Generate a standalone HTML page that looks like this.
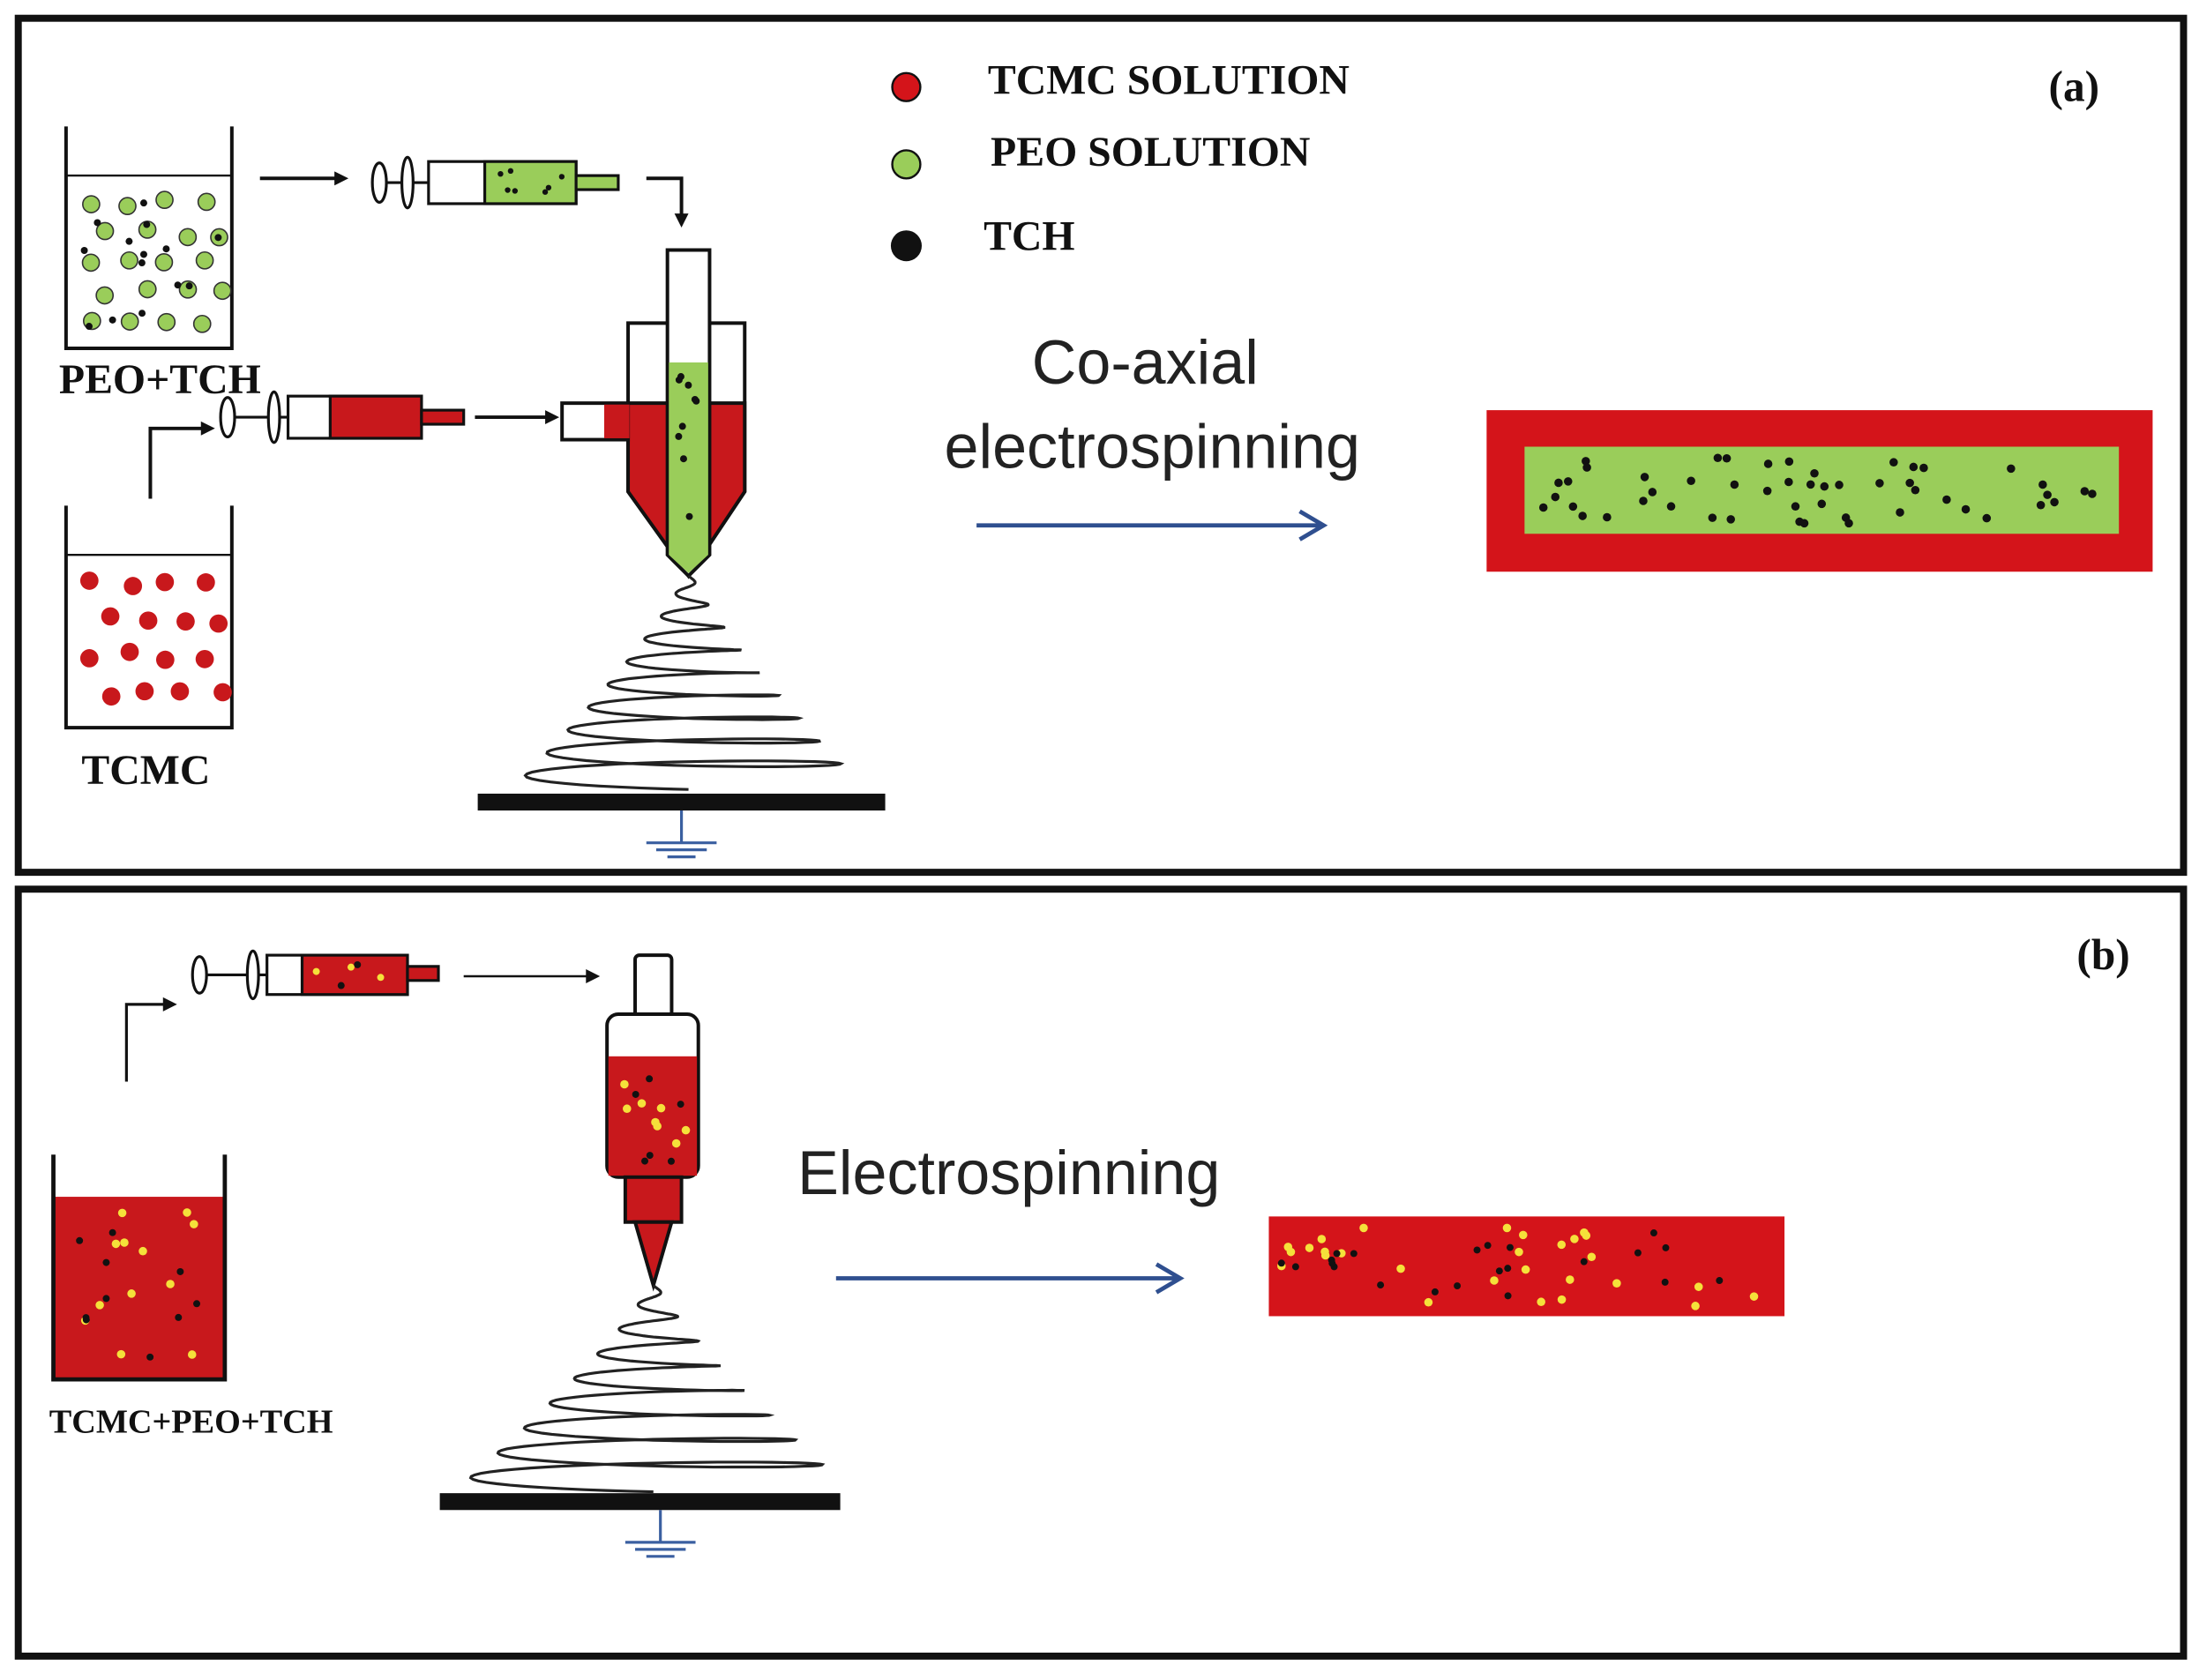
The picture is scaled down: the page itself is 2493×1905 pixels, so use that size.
<!DOCTYPE html>
<html><head><meta charset="utf-8"><style>
html,body{margin:0;padding:0;background:#fff}
svg{display:block}
.s{font-family:"Liberation Serif",serif;font-weight:bold}
.ss{font-family:"Liberation Sans",sans-serif}
</style></head><body>
<svg id="v" width="2493" height="1905" viewBox="0 0 1565 1196" preserveAspectRatio="none" xmlns="http://www.w3.org/2000/svg">
<rect x="0" y="0" width="1565" height="1196" fill="#fff"/>
<rect x="13" y="13" width="1541" height="608" fill="none" stroke="#111" stroke-width="5"/>
<rect x="13" y="633" width="1541" height="546" fill="none" stroke="#111" stroke-width="5"/>
<g stroke="#111" stroke-width="2.5" fill="none">
<path d="M47 90 V248 H165 V90"/><path d="M47 125 H165" stroke-width="1.5"/>
<path d="M47 360 V518 H165 V360"/><path d="M47 395 H165" stroke-width="1.5"/>
<path d="M185 127 H240"/><path d="M460 127 H485 V155"/><path d="M338 297 H390"/><path d="M107 355 V305 H145"/>
</g>
<g fill="#111"><path d="M248 127 l-10 -5 v10z"/><path d="M485 162 l-5 -10 h10z"/><path d="M398 297 l-10 -5 v10z"/><path d="M153 305 l-10 -5 v10z"/></g>
<g stroke="#111" stroke-width="2" fill="#fff">
<rect x="305" y="115" width="105" height="30"/><rect x="345" y="115" width="65" height="30" fill="#9acd5a"/>
<rect x="410" y="125" width="30" height="10" fill="#9acd5a"/>
<path d="M275 130 H305"/><ellipse cx="270" cy="130" rx="5" ry="14"/><ellipse cx="290" cy="130" rx="4" ry="18"/>
</g>
<g stroke="#111" stroke-width="2" fill="#fff">
<rect x="205" y="282" width="95" height="30"/><rect x="235" y="282" width="65" height="30" fill="#c8181c"/>
<rect x="300" y="292" width="30" height="10" fill="#c8181c"/>
<path d="M165 297 H205"/><ellipse cx="162" cy="297" rx="5" ry="14"/><ellipse cx="195" cy="297" rx="4" ry="18"/>
</g>
<g stroke="#111" stroke-width="2.5">
<path d="M447 230 H530 V350 L490 410 L447 350 Z" fill="#fff"/>
<path d="M447 287 H530 V350 L490 410 L447 350 Z" fill="#c8181c"/>
<rect x="400" y="287" width="47" height="26" fill="#fff"/><rect x="430" y="288" width="18" height="24" fill="#c8181c" stroke="none"/>
<path d="M475 178 H505 V395 L490 410 L475 395 Z" fill="#fff"/>
<path d="M476 258 H504 V395 L490 408 L476 395 Z" fill="#9acd5a" stroke="none"/>
</g>
<g stroke="#111" stroke-width="2" fill="#fff">
<rect x="190" y="680" width="100" height="28"/><rect x="215" y="680" width="75" height="28" fill="#c8181c"/>
<rect x="290" y="688" width="22" height="10" fill="#c8181c"/>
<path d="M145 694 H190"/><ellipse cx="142" cy="694" rx="5" ry="13"/><ellipse cx="180" cy="694" rx="4" ry="17"/>
<path d="M90 770 V715 H118" fill="none"/><path d="M330 695 H418" fill="none" stroke-width="1.5"/>
</g>
<g fill="#111"><path d="M126 715 l-10 -5 v10z"/><path d="M427 695 l-10 -5 v10z"/></g>
<rect x="38" y="852" width="122" height="130" fill="#c8181c"/>
<path d="M38 822 V982 H160 V822" fill="none" stroke="#111" stroke-width="3"/>
<g stroke="#111" stroke-width="2.5">
<rect x="452" y="680" width="26" height="45" fill="#fff" rx="3"/>
<rect x="432" y="722" width="65" height="116" fill="#fff" rx="8"/>
<rect x="433" y="752" width="63" height="85" fill="#c8181c" stroke="none"/>
<rect x="445" y="838" width="40" height="32" fill="#c8181c"/>
<path d="M452 870 L465 915 L478 870Z" fill="#c8181c"/>
</g>
<rect x="340" y="565" width="290" height="12" fill="#111"/>
<rect x="313" y="1063" width="285" height="12" fill="#111"/>
<g stroke="#3a5fa0" stroke-width="2">
<path d="M485 577 V600 M460 600 H510 M467 605 H503 M475 610 H495"/>
<path d="M470 1075 V1098 M445 1098 H495 M452 1103 H488 M460 1108 H480"/>
</g>
<path id="sp1" fill="none" stroke="#222" stroke-width="2"/>
<path id="sp2" fill="none" stroke="#222" stroke-width="2"/>
<rect x="1058" y="292" width="474" height="115" fill="#d4141a"/>
<rect x="1085" y="318" width="423" height="62" fill="#9acd5a"/>
<rect x="903" y="866" width="367" height="71" fill="#d4141a"/>
<g stroke="#2f4f8f" stroke-width="3" fill="none">
<path d="M695 374 H940 M925 364 L942 374 L925 384"/>
<path d="M595 910 H838 M823 900 L840 910 L823 920"/>
</g>
<g id="dots"></g>
<circle cx="645" cy="62" r="10" fill="#d4141a" stroke="#111" stroke-width="1.5"/>
<circle cx="645" cy="117" r="10" fill="#9acd5a" stroke="#111" stroke-width="1.5"/>
<circle cx="645" cy="175" r="11" fill="#111"/>
<g class="s" font-size="30" fill="#111">
<text x="703" y="67">TCMC SOLUTION</text><text x="705" y="118">PEO SOLUTION</text><text x="700" y="178">TCH</text>
<text x="1458" y="72" font-size="31">(a)</text><text x="1478" y="690" font-size="31">(b)</text>
<text x="42" y="280" font-size="30">PEO+TCH</text><text x="58" y="558" font-size="30">TCMC</text>
<text x="35" y="1020" font-size="24">TCMC+PEO+TCH</text>
</g>
<g class="ss" font-size="44" fill="#222" text-anchor="middle">
<text x="815" y="273">Co-axial</text><text x="820" y="333">electrospinning</text>
<text x="718" y="850">Electrospinning</text>
</g>
</svg>
<script>
function spiral(cx,y0,y1,w0,w1,n){let d="M"+cx+" "+y0;const N=400;for(let i=1;i<=N;i++){const t=i/N;const w=w0+(w1-w0)*Math.pow(t,1.2);const x=cx+w*Math.sin(2*Math.PI*n*t);const y=y0+(y1-y0)*t+6*Math.cos(2*Math.PI*n*t)*t;d+=" L"+x.toFixed(1)+" "+y.toFixed(1);}return d;}
document.getElementById("sp1").setAttribute("d",spiral(490,410,556,3,120,9));
document.getElementById("sp2").setAttribute("d",spiral(465,915,1056,3,135,8));
let s=7;function r(){s=(s*9301+49297)%233280;return s/233280;}
const g=document.getElementById("dots");let h="";
function c(x,y,rr,f,st){h+=`<circle cx="${x.toFixed(1)}" cy="${y.toFixed(1)}" r="${rr}" fill="${f}"${st?' stroke="#333" stroke-width="1"':''}/>`;}
for(let i=0;i<4;i++)for(let j=0;j<5;j++)c(62+i*27+(j%2)*12+r()*6,142+j*21+r()*6,6,"#9acd5a",1);
for(let i=0;i<14;i++)c(55+r()*105,135+r()*105,2.5,"#111");
for(let i=0;i<4;i++)for(let j=0;j<4;j++)c(62+i*27+(j%2)*12+r()*6,412+j*26+r()*6,6.5,"#c8181c");
for(let i=0;i<7;i++)c(355+r()*50,121+r()*18,2,"#111");
for(let i=0;i<9;i++)c(482+r()*16,268+r()*120,2.5,"#111");
for(let i=0;i<50;i++)c(1095+r()*405,325+r()*48,3,"#111");
for(let i=0;i<12;i++)c(48+r()*100,860+r()*110,3,"#f5e13a");
for(let i=0;i<10;i++)c(48+r()*100,860+r()*110,2.5,"#111");
for(let i=0;i<8;i++)c(440+r()*50,762+r()*70,3,"#f5e13a");
for(let i=0;i<6;i++)c(440+r()*50,762+r()*70,2.5,"#111");
for(let i=0;i<5;i++)c(222+r()*60,686+r()*16,2.5,i%2?"#111":"#f5e13a");
for(let i=0;i<28;i++)c(912+r()*350,874+r()*56,3,"#f5e13a");
for(let i=0;i<22;i++)c(912+r()*350,874+r()*56,2.5,"#111");
g.innerHTML=h;
</script>
</body></html>
